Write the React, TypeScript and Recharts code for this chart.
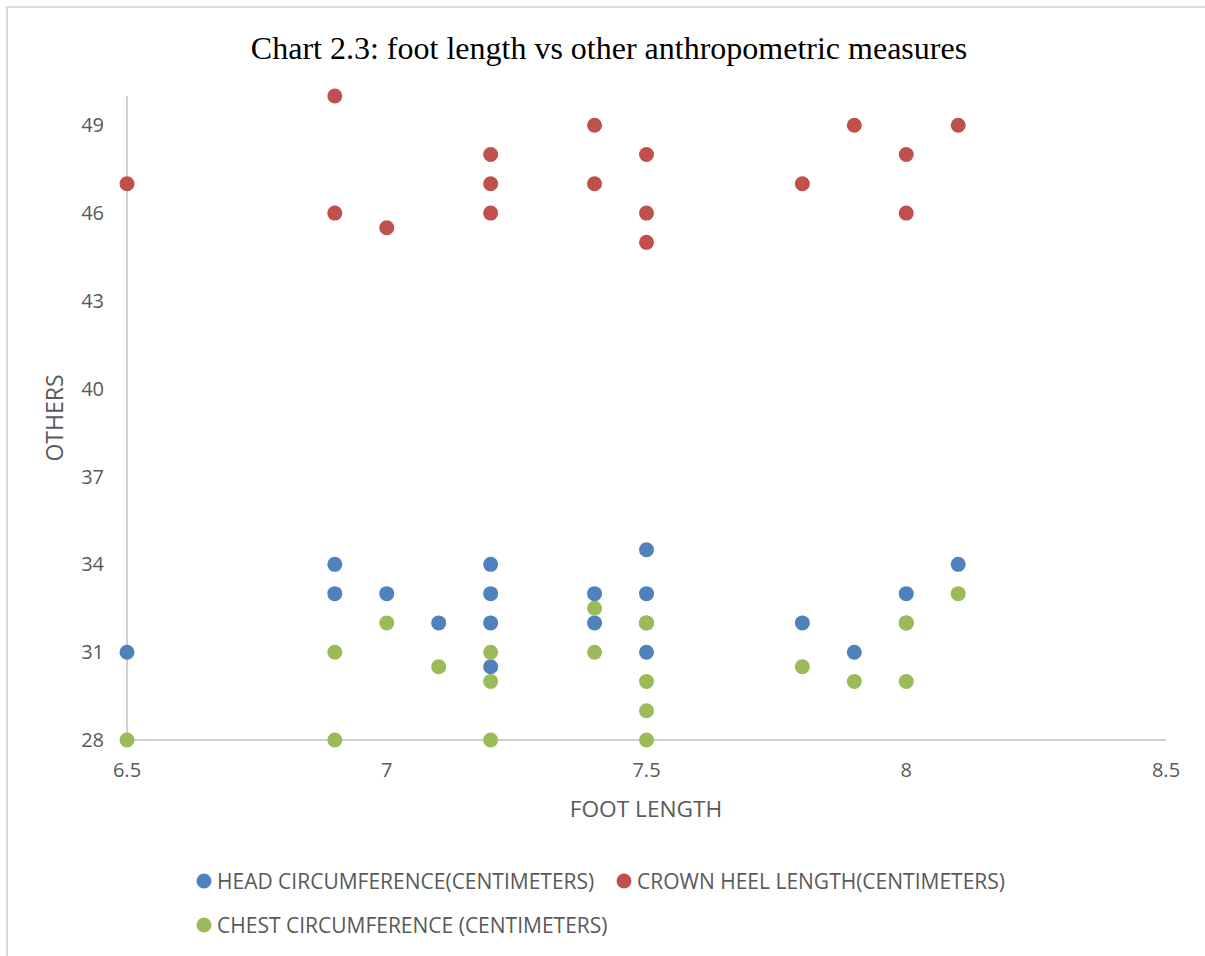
import React from "react";
import { ScatterChart, Scatter, XAxis, YAxis } from "recharts";

// foot length (cm) per series, and the matching measure
const headFoot = [6.5, 6.9, 6.9, 7.0, 7.1, 7.2, 7.2, 7.2, 7.2, 7.4, 7.4, 7.5, 7.5, 7.5, 7.5, 7.8, 7.9, 8.0, 8.0, 8.1];
const headCircumference = [31, 34, 33, 33, 32, 34, 33, 32, 30.5, 33, 32, 34.5, 33, 32, 31, 32, 31, 33, 32, 34];

const crownFoot = [6.5, 6.9, 6.9, 7.0, 7.2, 7.2, 7.2, 7.4, 7.4, 7.5, 7.5, 7.5, 7.8, 7.9, 8.0, 8.0, 8.1];
const crownHeelLength = [47, 50, 46, 45.5, 48, 47, 46, 49, 47, 48, 46, 45, 47, 49, 48, 46, 49];

const chestFoot = [6.5, 6.9, 6.9, 7.0, 7.1, 7.2, 7.2, 7.2, 7.4, 7.4, 7.5, 7.5, 7.5, 7.5, 7.8, 7.9, 8.0, 8.0, 8.1];
const chestCircumference = [28, 31, 28, 32, 30.5, 31, 30, 28, 32.5, 31, 32, 30, 29, 28, 30.5, 30, 32, 30, 33];

const xTicks = [6.5, 7, 7.5, 8, 8.5];
const yTicks = [28, 31, 34, 37, 40, 43, 46, 49];

const seriesNames = [
  "HEAD CIRCUMFERENCE(CENTIMETERS)",
  "CROWN HEEL LENGTH(CENTIMETERS)",
  "CHEST CIRCUMFERENCE (CENTIMETERS)",
];
const COLORS = ["#4f81bd", "#c0504d", "#9bbb59"];

const zip = (xs: number[], ys: number[]) => xs.map((x, i) => ({ x, y: ys[i] }));

const series = [
  zip(headFoot, headCircumference),
  zip(crownFoot, crownHeelLength),
  zip(chestFoot, chestCircumference),
];

const AXIS = "#595959";
const FONT = "'Open Sans', sans-serif";

const dot = (color: string) => (props: any) => (
  <circle cx={props.cx} cy={props.cy} r={7.5} fill={color} />
);

// legend marker spots
const legendPos = [
  { x: 204, y: 881 },
  { x: 624, y: 881 },
  { x: 204, y: 925 },
];

export default function App() {
  return (
    <div
      style={{
        position: "absolute",
        left: 0,
        top: 0,
        width: 1205,
        height: 956,
        overflow: "hidden",
        background: "#fff",
      }}
    >
      <div
        style={{
          position: "absolute",
          left: 6,
          top: 6,
          width: 1300,
          height: 1100,
          border: "2px solid #d9d9d9",
        }}
      />
      <div style={{ position: "absolute", left: 0, top: 0 }}>
        <ScatterChart
          width={1205}
          height={956}
          margin={{ top: 96, right: 39, bottom: 156, left: 47 }}
        >
          <XAxis
            type="number"
            dataKey="x"
            domain={[6.5, 8.5]}
            ticks={xTicks}
            height={60}
            tickLine={false}
            tickSize={0}
            tickMargin={23}
            axisLine={{ stroke: "#cfcfcf", strokeWidth: 2 }}
            tick={{ fill: AXIS, fontSize: 20, fontFamily: FONT }}
            label={{
              content: () => (
                <text x={646} y={817} textAnchor="middle" fill={AXIS} fontSize={22.7} fontFamily={FONT}>
                  FOOT LENGTH
                </text>
              ),
            }}
          />
          <YAxis
            type="number"
            dataKey="y"
            domain={[28, 50]}
            ticks={yTicks}
            width={80}
            tickLine={false}
            tickSize={0}
            tickMargin={23}
            axisLine={{ stroke: "#cfcfcf", strokeWidth: 2 }}
            tick={{ fill: AXIS, fontSize: 20, fontFamily: FONT }}
            label={{
              content: () => (
                <text
                  x={63}
                  y={418}
                  transform="rotate(-90 63 418)"
                  textAnchor="middle"
                  fill={AXIS}
                  fontSize={23}
                  fontFamily={FONT}
                >
                  OTHERS
                </text>
              ),
            }}
          />
          {series.map((data, i) => (
            <Scatter
              key={seriesNames[i]}
              name={seriesNames[i]}
              data={data}
              fill={COLORS[i]}
              shape={dot(COLORS[i])}
              isAnimationActive={false}
            />
          ))}
        </ScatterChart>
      </div>
      <svg
        width={1205}
        height={956}
        style={{ position: "absolute", left: 0, top: 0, pointerEvents: "none" }}
      >
        <text
          x={609}
          y={59}
          textAnchor="middle"
          fontFamily="'Liberation Serif', 'Times New Roman', serif"
          fontSize={32}
          fill="#000"
        >
          Chart 2.3: foot length vs other anthropometric measures
        </text>
        {seriesNames.map((name, i) => (
          <g key={name}>
            <circle cx={legendPos[i].x} cy={legendPos[i].y} r={7.5} fill={COLORS[i]} />
            <text
              x={legendPos[i].x + 13}
              y={legendPos[i].y + 7.5}
              fill={AXIS}
              fontSize={21}
              fontFamily={FONT}
            >
              {name}
            </text>
          </g>
        ))}
      </svg>
    </div>
  );
}
